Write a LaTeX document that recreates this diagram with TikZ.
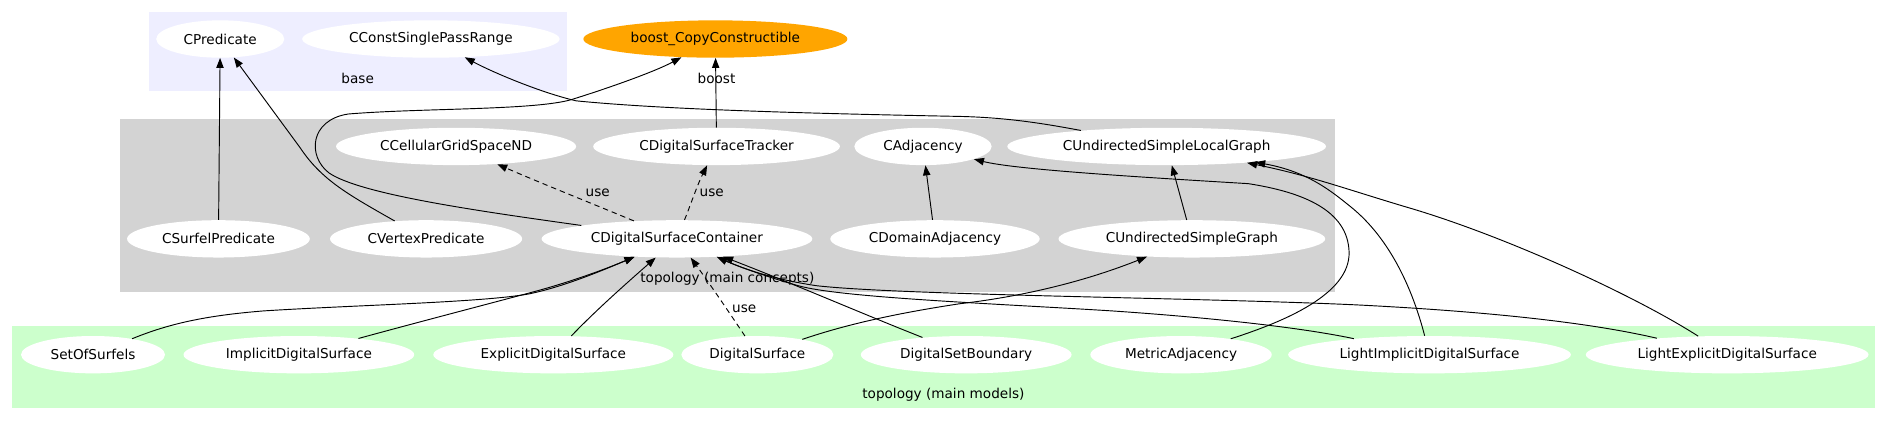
\documentclass[tikz,border=0pt]{standalone}
\usepackage{fontspec}
\setmainfont{DejaVu Sans}
\usetikzlibrary{shapes.geometric,arrows.meta}
\definecolor{baseclr}{HTML}{EEEEFF}
\definecolor{conclr}{HTML}{D3D3D3}
\definecolor{modclr}{HTML}{CCFFCC}
\definecolor{boostclr}{HTML}{FFA500}
\begin{document}
\begin{tikzpicture}[x=0.9pt,y=-0.9pt,
  every node/.style={font=\fontsize{10.2}{12}\selectfont},
  nd/.style={ellipse, fill=white, inner sep=0pt, minimum height=28pt},
  edge/.style={draw=black, line width=0.7pt, -{Triangle[length=7.5pt,width=5.5pt]}},
  useedge/.style={edge, dash pattern=on 4pt off 3pt},
  lbl/.style={inner sep=0pt}]
\useasboundingbox[fill=white] (0,0) rectangle (1568,353.25);
% clusters
\fill[baseclr] (124,10) rectangle (472,76);
\fill[conclr] (100,99) rectangle (1112,243);
\fill[modclr] (10,272) rectangle (1562,340);
\node[lbl] (lbase) at (298,65) {base};
\node[lbl] (lcon) at (606,232) {topology (main concepts)};
\node[lbl] (lmod) at (786,329) {topology (main models)};
% top
\node[nd, minimum width=96pt] (CP) at (183.5,32.5) {CPredicate};
\node[nd, minimum width=193pt] (CCSPR) at (359,32.5) {CConstSinglePassRange};
\node[nd, fill=boostclr, minimum width=198pt] (boost) at (596,32.5) {boost\_CopyConstructible};
% concepts row 1
\node[nd, minimum width=180pt] (CCGS) at (380,122) {CCellularGridSpaceND};
\node[nd, minimum width=185pt] (CDST) at (597,122) {CDigitalSurfaceTracker};
\node[nd, minimum width=103pt] (CA) at (769,122) {CAdjacency};
\node[nd, minimum width=239pt] (CUSLG) at (972,122) {CUndirectedSimpleLocalGraph};
% concepts row 2
\node[nd, minimum width=137pt] (CSP) at (182,199) {CSurfelPredicate};
\node[nd, minimum width=144pt] (CVP) at (355,199) {CVertexPredicate};
\node[nd, minimum width=203pt] (CDSC) at (564,199) {CDigitalSurfaceContainer};
\node[nd, minimum width=157pt] (CDA) at (779,199) {CDomainAdjacency};
\node[nd, minimum width=200pt] (CUSG) at (993,199) {CUndirectedSimpleGraph};
% models
\node[nd, minimum width=108pt] (SOS) at (77.5,295.5) {SetOfSurfels};
\node[nd, minimum width=173pt] (IDS) at (249,295.5) {ImplicitDigitalSurface};
\node[nd, minimum width=180pt] (EDS) at (461,295.5) {ExplicitDigitalSurface};
\node[nd, minimum width=114pt] (DS) at (631,295.5) {DigitalSurface};
\node[nd, minimum width=158pt] (DSB) at (805,295.5) {DigitalSetBoundary};
\node[nd, minimum width=136pt] (MA) at (984,295.5) {MetricAdjacency};
\node[nd, minimum width=212pt] (LIDS) at (1191,295.5) {LightImplicitDigitalSurface};
\node[nd, minimum width=212pt] (LEDS) at (1439,295.5) {LightExplicitDigitalSurface};
% edges
\draw[edge] (CSP) -- (CP);
\draw[edge] (CVP) .. controls (290,162) and (268,150) .. (250,123) -- (CP);
\draw[edge] (CDSC) .. controls (400,176) and (300,162) .. (274,144)
  .. controls (256,130) and (258,100) .. (290,95)
  .. controls (350,90) and (445,92) .. (476,83)
  .. controls (505,74) and (545,60) .. (boost);
\draw[edge] (CUSLG) .. controls (870,103) and (840,98) .. (800,97)
  .. controls (700,95) and (560,92) .. (480,84)
  .. controls (450,77) and (410,60) .. (CCSPR);
\draw[edge] (CDST) -- (boost);
\node[lbl] (lboost) at (597,65) {boost};
\draw[useedge] (CDSC) .. controls (492,169) and (454,154) .. (CCGS);
\node[lbl] (luse1) at (498,161) {use};
\draw[useedge] (CDSC) .. controls (576,169) and (581,154) .. (CDST);
\node[lbl] (luse2) at (593,161) {use};
\draw[edge] (CDA) -- (CA);
\draw[edge] (CUSG) -- (CUSLG);
\draw[edge] (SOS) .. controls (140,270) and (170,263) .. (220,259)
  .. controls (300,254) and (400,252) .. (440,245)
  .. controls (470,239) and (505,224) .. (CDSC);
\draw[edge] (IDS) .. controls (350,268) and (400,255) .. (445,243)
  .. controls (475,235) and (505,224) .. (CDSC);
\draw[edge] (EDS) .. controls (497,258) and (522,236) .. (CDSC);
\draw[useedge] (DS) .. controls (606,258) and (591,236) .. (CDSC);
\node[lbl] (luse3) at (620,257) {use};
\draw[edge] (DSB) .. controls (720,262) and (660,236) .. (CDSC);
\draw[edge] (LIDS) .. controls (1080,272) and (1000,264) .. (926,259)
  .. controls (830,253) and (700,248) .. (665,238)
  .. controls (640,231) and (615,222) .. (CDSC);
\draw[edge] (LEDS) .. controls (1330,270) and (1250,260) .. (1130,254)
  .. controls (1000,248) and (750,246) .. (680,238)
  .. controls (640,232) and (615,222) .. (CDSC);
\draw[edge] (DS) .. controls (700,272) and (740,262) .. (800,253)
  .. controls (860,246) and (910,232) .. (CUSG);
\draw[edge] (MA) .. controls (1070,268) and (1125,245) .. (1124,210)
  .. controls (1123,175) and (1085,160) .. (1040,153)
  .. controls (940,147) and (845,141) .. (CA);
\draw[edge] (LIDS) .. controls (1178,245) and (1160,200) .. (1125,172)
  .. controls (1110,160) and (1090,143) .. (CUSLG);
\draw[edge] (LEDS) .. controls (1360,245) and (1250,195) .. (1170,172)
  .. controls (1120,157) and (1090,146) .. (CUSLG);
\end{tikzpicture}
\end{document}
